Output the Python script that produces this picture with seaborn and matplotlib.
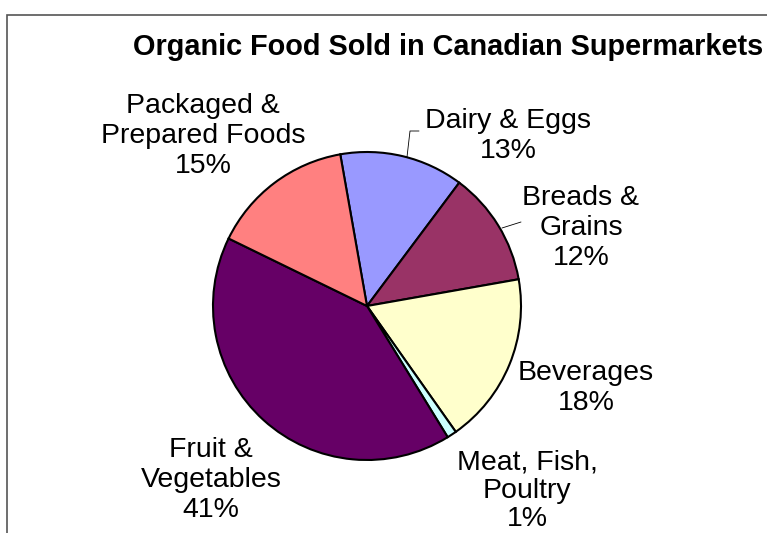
import matplotlib
matplotlib.use("Agg")
import matplotlib.pyplot as plt
import seaborn as sns
from matplotlib.patches import Rectangle

categories = ["Dairy & Eggs", "Breads & Grains", "Beverages", "Meat, Fish, Poultry",
              "Fruit & Vegetables", "Packaged & Prepared Foods"]
values = [13, 12, 18, 1, 41, 15]
label_texts = ["Dairy & Eggs\n13%", "Breads &\nGrains\n12%", "Beverages\n18%",
               "Meat, Fish,\nPoultry\n1%", "Fruit &\nVegetables\n41%",
               "Packaged &\nPrepared Foods\n15%"]
colors = ["#9999FF", "#993366", "#FFFFCC", "#CCFFFF", "#660066", "#FF8080"]
title = "Organic Food Sold in Canadian Supermarkets"

sns.set_theme(style="white")
plt.rcParams["font.family"] = ["Liberation Sans", "DejaVu Sans"]

W, H = 767, 533
fig = plt.figure(figsize=(W / 100, H / 100), dpi=100)
fig.patch.set_facecolor("white")
ax = fig.add_axes([0, 0, 1, 1])

cx, cy, r = 367, H - 306, 154
ax.pie(values, colors=colors, startangle=100, counterclock=False,
       center=(cx, cy), radius=r, frame=True,
       wedgeprops=dict(edgecolor="black", linewidth=1.5))
ax.set_xlim(0, W)
ax.set_ylim(0, H)
ax.set_aspect("equal")
ax.axis("off")

# label positions: (x centre, baseline of last line), pixel coords from top
label_pos = [(508, 158), (581, 265), (586, 410), (527, 526), (211, 517), (203, 173)]
for txt, (x, y) in zip(label_texts, label_pos):
    ax.text(x, H - y, txt, ha="center", va="baseline", fontsize=20.5,
            linespacing=1.2 if "Meat" not in txt else 1.12,
            color="black", multialignment="center")

# leader lines
ax.plot([407, 410, 419], [H - 157, H - 131, H - 131], color="black", lw=0.6)
ax.plot([502, 521], [H - 228, H - 222], color="black", lw=0.6)

ax.text(448, H - 55, title, ha="center", va="baseline", fontsize=20.8,
        fontweight="bold", color="black")

# chart frame
fig.patches.append(Rectangle((7 / W, -0.1), 1.2, (H - 15) / H + 0.1,
                             transform=fig.transFigure, fill=False,
                             edgecolor="#555555", linewidth=1.2))

fig.savefig("out.png", dpi=100, facecolor="white")
